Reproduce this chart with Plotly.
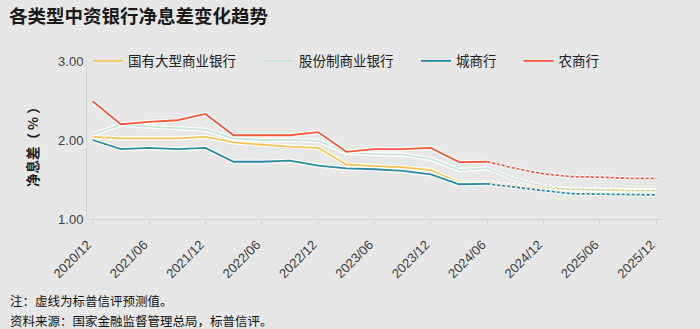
import plotly.graph_objects as go

# Quarter-end dates, 2020/12 .. 2025/12
quarters = [
    "2020/12", "2021/03", "2021/06", "2021/09", "2021/12", "2022/03", "2022/06",
    "2022/09", "2022/12", "2023/03", "2023/06", "2023/09", "2023/12", "2024/03",
    "2024/06", "2024/09", "2024/12", "2025/03", "2025/06", "2025/09", "2025/12",
]
tick_labels = quarters[::2]

# Net interest margin (%) by bank type
big_state = [2.04, 2.02, 2.02, 2.02, 2.04, 1.97, 1.94, 1.915, 1.90, 1.69, 1.67,
             1.655, 1.62, 1.46, 1.46, 1.42, 1.39, 1.375, 1.37, 1.36, 1.36]
joint_stock = [2.07, 2.19, 2.17, 2.15, 2.13, 2.02, 2.00, 2.00, 1.99, 1.84, 1.82,
               1.815, 1.76, 1.62, 1.64, 1.50, 1.41, 1.375, 1.37, 1.36, 1.36]
city = [2.00, 1.885, 1.90, 1.885, 1.90, 1.725, 1.725, 1.74, 1.675, 1.64, 1.63,
        1.61, 1.565, 1.44, 1.445, 1.40, 1.36, 1.32, 1.315, 1.31, 1.305]
rural = [2.49, 2.20, 2.23, 2.25, 2.33, 2.06, 2.06, 2.06, 2.10, 1.85, 1.885,
         1.885, 1.90, 1.72, 1.725, 1.64, 1.57, 1.535, 1.53, 1.515, 1.515]

series_names = ["国有大型商业银行", "股份制商业银行", "城商行", "农商行"]
series_values = [big_state, joint_stock, city, rural]
series_colors = ["#f7c55a", "#c9e5d6", "#2a8aa0", "#f05a3c"]

# last actual observation; later points are forecasts
last_actual = quarters.index("2024/06")

BG = "#e7e7e7"
AXIS = "#d3d3d3"
FONT = "Liberation Sans, Noto Sans CJK SC, sans-serif"
CJK = "Noto Sans CJK SC, sans-serif"

# plot-area geometry (px) used to place paper-referenced items
L, R, T, B = 87, 38, 61, 110
PW, PH = 700 - L - R, 329 - T - B


def px_x(x):
    return (x - L) / PW


def px_y(y):
    return (329 - B - y) / PH


legend_ids = ["legend", "legend2", "legend3", "legend4"]
legend_left = [88, 259, 416, 518.5]

fig = go.Figure()

for name, vals, color, lg in zip(series_names, series_values, series_colors, legend_ids):
    xa, ya = quarters[: last_actual + 1], vals[: last_actual + 1]
    xf, yf = quarters[last_actual:], vals[last_actual:]
    # white halo under each line
    fig.add_trace(go.Scatter(x=xa, y=ya, mode="lines", showlegend=False,
                             hoverinfo="skip",
                             line=dict(color="white", width=4.2)))
    fig.add_trace(go.Scatter(x=xf, y=yf, mode="lines", showlegend=False,
                             hoverinfo="skip",
                             line=dict(color="white", width=4.2, dash="3px,2px")))
    fig.add_trace(go.Scatter(x=xa, y=ya, mode="lines", name=name, legend=lg,
                             line=dict(color=color, width=1.8)))
    fig.add_trace(go.Scatter(x=xf, y=yf, mode="lines", name=name, legend=lg,
                             showlegend=False,
                             line=dict(color=color, width=1.8, dash="3px,2px")))

legend_style = dict(orientation="h", xanchor="left", y=1.0, yanchor="middle",
                    bgcolor="rgba(0,0,0,0)",
                    font=dict(family=CJK, size=13.5, color="#222222"))
legends = {lg: dict(legend_style, x=px_x(xl)) for lg, xl in zip(legend_ids, legend_left)}

fig.update_layout(
    width=700, height=329,
    margin=dict(l=L, r=R, t=T, b=B),
    paper_bgcolor=BG, plot_bgcolor=BG,
    font=dict(family=FONT, size=13, color="#404040"),
    showlegend=True,
    **legends,
    xaxis=dict(
        type="category", categoryorder="array", categoryarray=quarters,
        range=[-0.2, 20.2],
        tickmode="array", tickvals=tick_labels, ticktext=tick_labels,
        tickangle=-45, ticks="outside", ticklen=5, tickcolor=AXIS,
        ticklabelshift=-5, ticklabelstandoff=7,
        showline=True, linecolor=AXIS, linewidth=1,
        showgrid=False, zeroline=False,
        tickfont=dict(size=13, color="#404040"),
    ),
    yaxis=dict(
        range=[1.0, 3.0], tickvals=[1.0, 2.0, 3.0], tickformat=".2f",
        showline=True, linecolor=AXIS, linewidth=1,
        ticks="", showgrid=False, zeroline=False,
        tickfont=dict(size=13, color="#404040"),
    ),
    annotations=[
        dict(text="<b>各类型中资银行净息差变化趋势</b>", xref="paper", yref="paper",
             x=px_x(7), y=px_y(15), xanchor="left", yanchor="middle",
             showarrow=False, font=dict(family=CJK, size=18.5, color="#1a1a1a")),
        dict(text="<b>净息差（ % ）</b>", xref="paper", yref="paper",
             x=px_x(32), y=px_y(144), xanchor="center", yanchor="middle",
             textangle=-90, showarrow=False,
             font=dict(family=CJK, size=13.5, color="#1a1a1a")),
        dict(text="注：虚线为标普信评预测值。", xref="paper", yref="paper",
             x=px_x(8), y=px_y(300), xanchor="left", yanchor="middle",
             showarrow=False, font=dict(family=CJK, size=12.5, color="#111111")),
        dict(text="资料来源：国家金融监督管理总局，标普信评。", xref="paper", yref="paper",
             x=px_x(8), y=px_y(320), xanchor="left", yanchor="middle",
             showarrow=False, font=dict(family=CJK, size=12.5, color="#111111")),
    ],
)

fig.write_html("out.html")
